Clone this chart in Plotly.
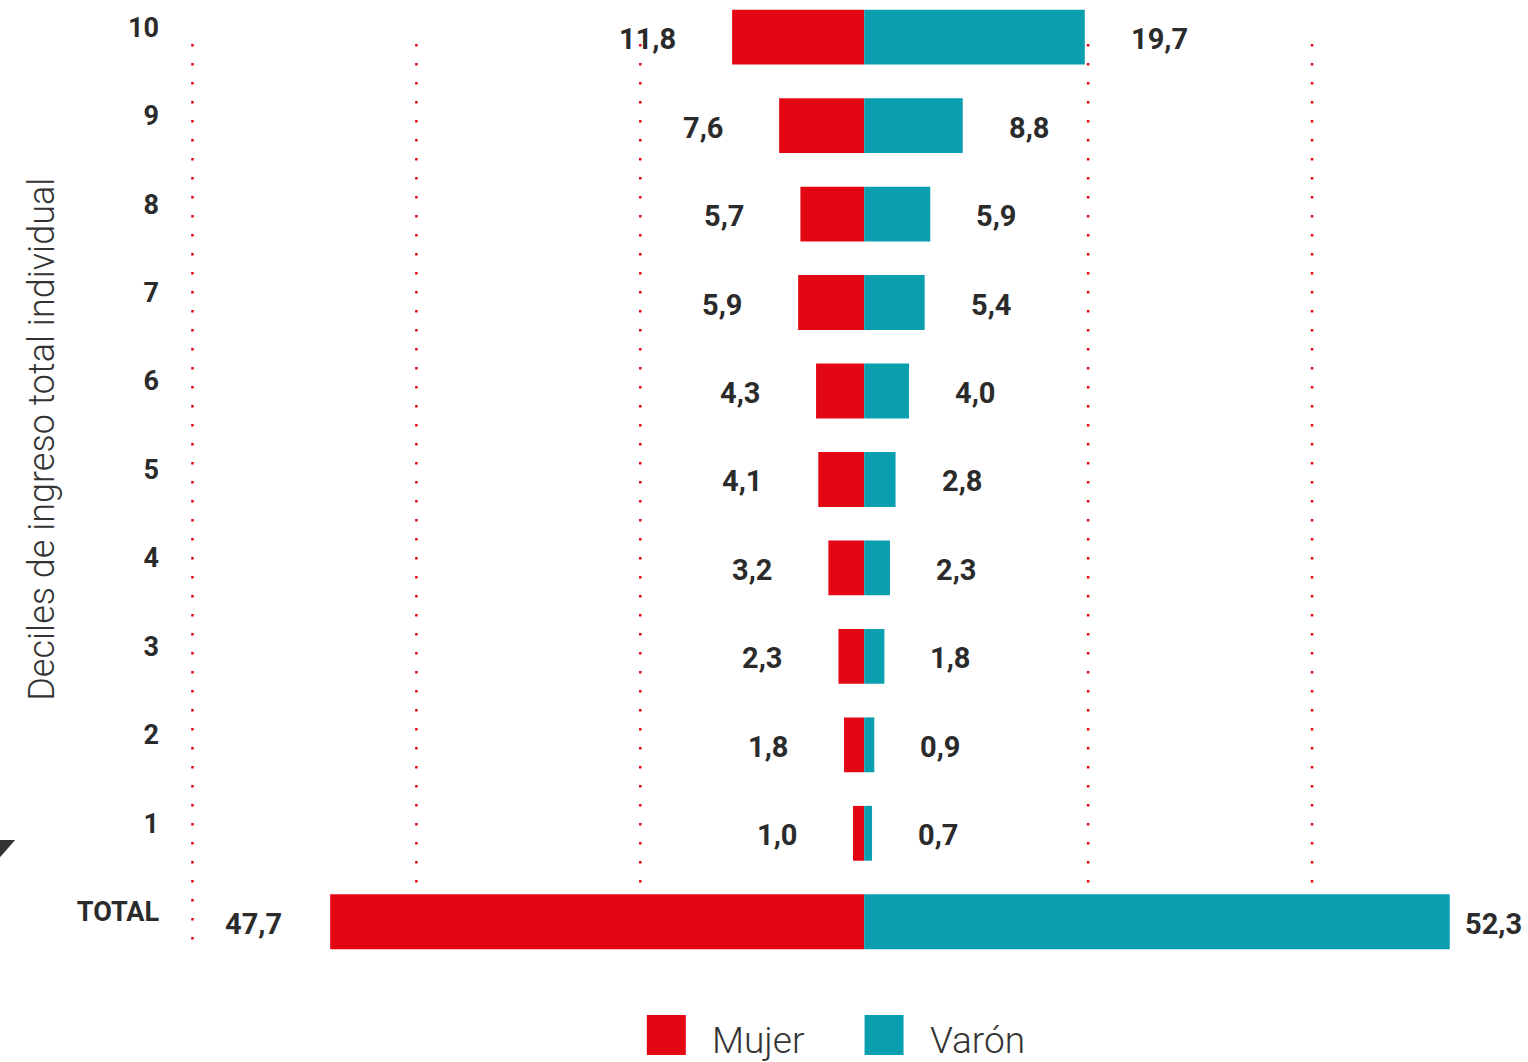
import plotly.graph_objects as go

# deciles of individual total income, share of people (%) by sex
CATS = ["TOTAL", "1", "2", "3", "4", "5", "6", "7", "8", "9", "10"]
MUJER = [47.7, 1.0, 1.8, 2.3, 3.2, 4.1, 4.3, 5.9, 5.7, 7.6, 11.8]
VARON = [52.3, 0.7, 0.9, 1.8, 2.3, 2.8, 4.0, 5.4, 5.9, 8.8, 19.7]
GRID_X = [-60, -40, -20, 20, 40]

RED = "#E30613"
TEAL = "#0A9FAF"
INK = "#2B2B2B"
FONT = "Roboto, Inter, sans-serif"


def fmt(v):
    return f"{v:.1f}".replace(".", ",")


fig = go.Figure()
fig.add_trace(go.Bar(y=CATS, x=[-v for v in MUJER], orientation="h", name="Mujer",
                     marker=dict(color=RED, line=dict(width=0)), showlegend=False))
fig.add_trace(go.Bar(y=CATS, x=VARON, orientation="h", name="Varón",
                     marker=dict(color=TEAL, line=dict(width=0)), showlegend=False))

# dotted red guide lines
for gx in GRID_X:
    fig.add_shape(type="line", xref="x", yref="y", x0=gx, x1=gx, y0=-0.2, y1=9.97,
                  layer="below", line=dict(color=RED, width=2.5, dash="2.5px,16.5px"))

# value labels, set off from the bar ends
for c, m, v in zip(CATS, MUJER, VARON):
    fig.add_annotation(x=-m, y=c, text=fmt(m), showarrow=False, xanchor="right",
                       xshift=-54 if c != "TOTAL" else -46, yshift=-2,
                       font=dict(family=FONT, size=29, color=INK, weight="bold"))
    fig.add_annotation(x=v, y=c, text=fmt(v), showarrow=False, xanchor="left",
                       xshift=44 if c != "TOTAL" else 13, yshift=-2,
                       font=dict(family=FONT, size=29, color=INK, weight="bold"))

# axis title, rotated
fig.add_annotation(xref="paper", yref="paper", x=-0.1095, y=0.545, textangle=-90,
                   text="Deciles de ingreso total individual", showarrow=False,
                   xanchor="center", yanchor="middle",
                   font=dict(family=FONT, size=36, color="#333333", weight=300))

# hand-made legend
for x0, col, label in [(0.3424, RED, "Mujer"), (0.5049, TEAL, "Varón")]:
    fig.add_shape(type="rect", xref="paper", yref="paper", x0=x0, x1=x0 + 0.0291,
                  y0=-0.0921, y1=-0.0507, fillcolor=col, line=dict(width=0))
    fig.add_annotation(xref="paper", yref="paper", x=x0 + 0.0470, y=-0.0775, text=label,
                       showarrow=False, xanchor="left", yanchor="middle",
                       font=dict(family=FONT, size=37, color="#333333", weight=300))

# stray arrow tip at the left border
fig.add_shape(type="path", xref="paper", yref="paper",
              path="M -0.1408 0.1304 L -0.1290 0.1304 L -0.1408 0.1118 Z",
              fillcolor="#333333", line=dict(width=0))

fig.update_layout(
    width=1528, height=1062, template=None,
    paper_bgcolor="white", plot_bgcolor="white",
    barmode="relative", bargap=0.38,
    margin=dict(l=188, r=0, t=0, b=96),
    font=dict(family=FONT, color=INK),
    xaxis=dict(range=[-60.4, 59.29], showgrid=False, zeroline=False, showticklabels=False,
               showline=False, fixedrange=True),
    yaxis=dict(type="category", categoryorder="array", categoryarray=CATS,
               range=[-0.5, 10.42], showgrid=False, zeroline=False, showline=False,
               ticks="", ticklabelstandoff=28, ticklabelshift=-10, fixedrange=True,
               tickfont=dict(family=FONT, size=27, color=INK, weight="bold")),
)

# drop the browser's default body margin so the figure sits at the page corner
fig.write_html("out.html", config={"displayModeBar": False},
               post_script="document.body.style.margin='0px';")
